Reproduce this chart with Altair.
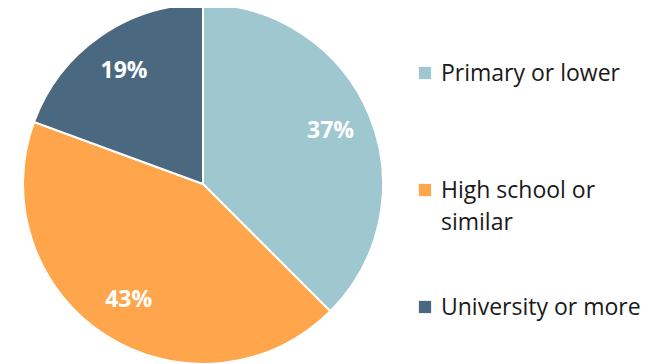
import altair as alt
import pandas as pd

categories = ["Primary or lower", "High school or similar", "University or more"]
legend_lines = [["Primary or lower"], ["High school or", "similar"], ["University or more"]]
values = [37.5, 43.1, 19.4]
labels = ["37%", "43%", "19%"]
colors = ["#9EC7D0", "#FFA64D", "#4A6880"]

df = pd.DataFrame({
    "category": categories,
    "value": values,
    "label": labels,
    "order": [0, 1, 2],
    "legend_text": ["\n".join(l) for l in legend_lines],
})

FONT = "Open Sans"
color_scale = alt.Scale(domain=categories, range=colors)

base = alt.Chart(df).encode(
    theta=alt.Theta("value:Q", stack=True),
    order=alt.Order("order:Q"),
)

pie = base.mark_arc(outerRadius=180, stroke="white", strokeWidth=2).encode(
    color=alt.Color("category:N", scale=color_scale, legend=None)
)

text = base.mark_text(radius=138, font=FONT, fontSize=23, fontWeight="bold", color="white").encode(
    text="label:N"
)

pie_chart = (pie + text).properties(width=390, height=352)

leg_y = alt.Y("category:N", sort=categories, axis=None,
              scale=alt.Scale(type="point", padding=0.5, range=[6.5, 357.5]))

leg_base = alt.Chart(df).encode(y=leg_y)

squares = leg_base.mark_square(size=150, opacity=1).encode(
    x=alt.value(27),
    color=alt.Color("category:N", scale=color_scale, legend=None),
)

leg_text = leg_base.mark_text(
    align="left", baseline="alphabetic", dy=8, font=FONT, fontSize=23,
    lineBreak="\n", lineHeight=32, color="#1a1a1a",
).encode(
    x=alt.value(43),
    text="legend_text:N",
)

legend_chart = (squares + leg_text).properties(width=260, height=352)

chart = (
    alt.hconcat(pie_chart, legend_chart, spacing=0)
    .properties(padding={"left": 0, "top": -8, "right": 0, "bottom": 0})
    .configure_view(stroke=None)
)

chart.save("out.html", embed_options={"renderer": "svg", "actions": False})
